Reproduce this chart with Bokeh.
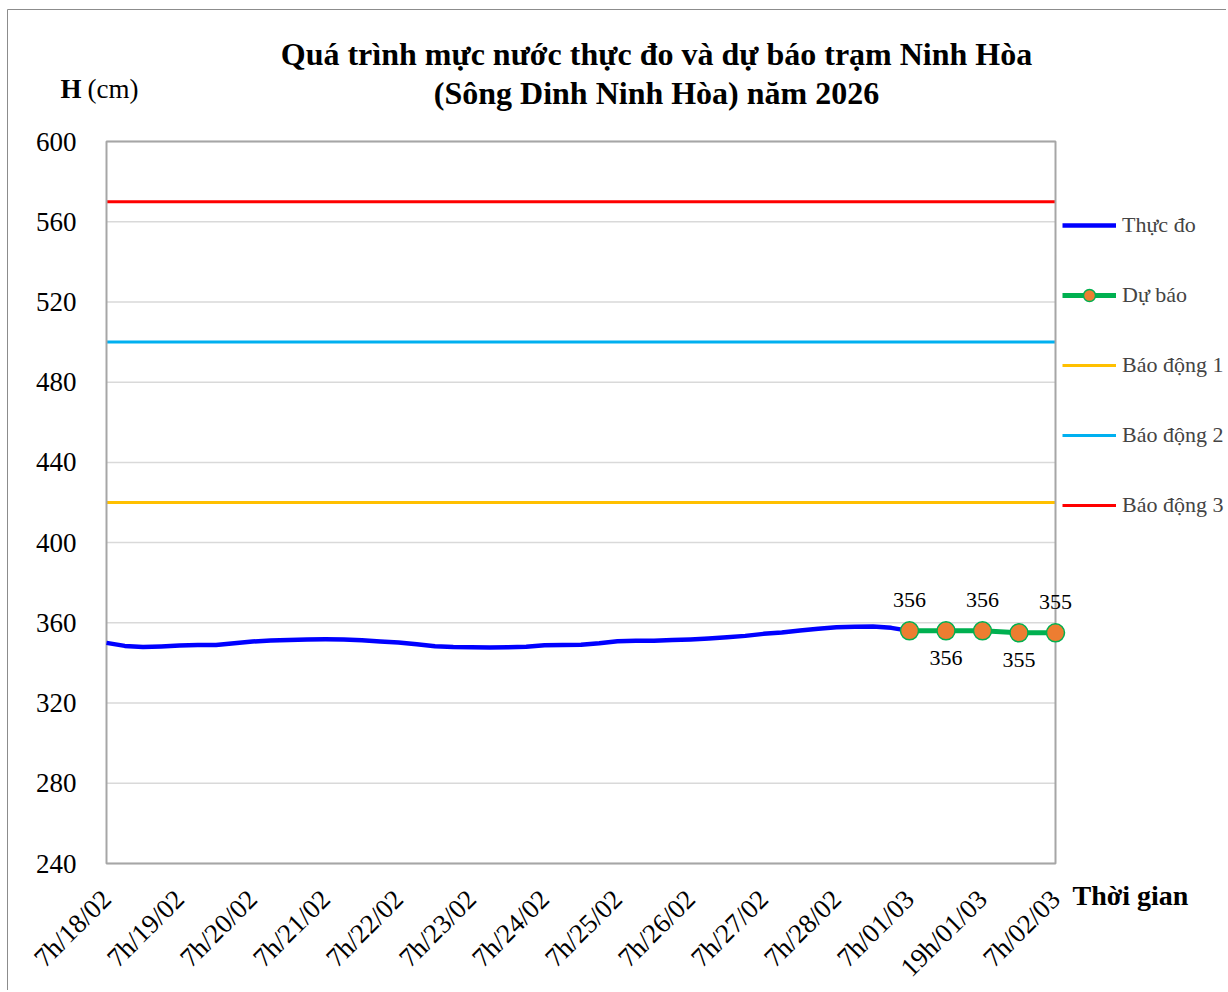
from bokeh.plotting import figure
from bokeh.models import (Legend, LegendItem, Label, LabelSet, FixedTicker, Range1d,
                          ColumnDataSource, LinearAxis)
from bokeh.embed import file_html
from bokeh.resources import INLINE

# ---- data ----
tick_labels = ["7h/18/02", "7h/19/02", "7h/20/02", "7h/21/02", "7h/22/02", "7h/23/02",
               "7h/24/02", "7h/25/02", "7h/26/02", "7h/27/02", "7h/28/02", "7h/01/03",
               "19h/01/03", "7h/02/03"]
y_ticks = [240, 280, 320, 360, 400, 440, 480, 520, 560, 600]
# observed water level every 6h from 7h/18/02 to 7h/01/03
obs_levels = [350, 348.5, 347.9, 348.2, 348.7, 348.9, 348.9, 349.8, 350.7, 351.2,
              351.5, 351.7, 351.8, 351.7, 351.3, 350.7, 350.2, 349.3, 348.3, 347.9,
              347.8, 347.7, 347.8, 348.1, 348.8, 349.0, 349.1, 349.8, 350.8, 351.1,
              351.1, 351.4, 351.7, 352.2, 352.8, 353.5, 354.5, 355.2, 356.2, 357.1,
              357.8, 358.1, 358.2, 357.5, 356]
# forecast every 6h from 7h/01/03 to 7h/02/03
fc_levels = [356, 356, 356, 355, 355]
fc_labels = ["356", "356", "356", "355", "355"]
alarm_names = ["Báo động 1", "Báo động 2", "Báo động 3"]
alarm_levels = [420, 500, 570]
alarm_colors = ["#ffc000", "#00b0f0", "#ff0000"]

FONT = "Liberation Serif"

obs_x = [i * 0.25 for i in range(len(obs_levels))]
fc_x = [11 + i * 0.5 for i in range(len(fc_levels))]
x_end = len(tick_labels) - 1
y_lo, y_hi = y_ticks[0], y_ticks[-1]

# ---- layout: canvas size and the pixel box of the plot area ----
W, H = 1226, 990
PL, PR, PT, PB = 106, 1055, 141, 863
sx = (PR - PL) / x_end
sy = (PB - PT) / (y_hi - y_lo)


def dx(px):
    return (px - PL) / sx


def dy(py):
    return y_lo + (PB - py) / sy


p = figure(width=W, height=H, output_backend="svg", toolbar_location=None,
           x_range=Range1d(dx(0), dx(W)), y_range=Range1d(dy(H), dy(0)),
           x_axis_location=None, y_axis_location=None, min_border=0)
p.background_fill_color = "white"
p.border_fill_color = "white"
p.outline_line_color = None
p.grid.visible = False

# outer chart border
p.quad(left=dx(7), right=dx(W + 50), top=dy(9), bottom=dy(H + 50),
       fill_color=None, line_color="#8c8c8c", line_width=1)

# horizontal gridlines inside the plot area
p.segment(x0=[0] * len(y_ticks), x1=[x_end] * len(y_ticks), y0=y_ticks, y1=y_ticks,
          line_color="#d9d9d9", line_width=1.5)

# axes fixed at the plot-area edges
yax = LinearAxis(fixed_location=0, ticker=FixedTicker(ticks=y_ticks), bounds=(y_lo, y_hi))
xax = LinearAxis(fixed_location=y_lo, ticker=FixedTicker(ticks=list(range(len(tick_labels)))),
                 bounds=(0, x_end))
xax.major_label_overrides = {i: t for i, t in enumerate(tick_labels)}
xax.major_label_orientation = 0.785398
for ax in (xax, yax):
    ax.axis_line_color = None
    ax.major_tick_line_color = None
    ax.minor_tick_line_color = None
    ax.major_label_text_font = FONT
    ax.major_label_text_color = "black"
yax.major_label_text_font_size = "27px"
yax.major_label_standoff = 24
xax.major_label_text_font_size = "27px"
xax.major_label_standoff = 25
p.add_layout(yax, "left")
p.add_layout(xax, "below")

alarm_r = []
for lvl, col in zip(alarm_levels, alarm_colors):
    r = p.line([0, x_end], [lvl, lvl], line_color=col, line_width=3)
    alarm_r.append(r)

# plot-area frame
p.quad(left=0, right=x_end, bottom=y_lo, top=y_hi, fill_color=None,
       line_color="#a6a6a6", line_width=2)

obs_r = p.line(obs_x, obs_levels, line_color="#0000ff", line_width=4.5, line_join="round")
fc_line = p.line(fc_x, fc_levels, line_color="#00b050", line_width=5)
fc_pts = p.scatter(fc_x, fc_levels, size=18, fill_color="#ed7d31", line_color="#00b050",
                   line_width=1.5)

offsets = [31 if i % 2 == 0 else -27 for i in range(len(fc_levels))]
src = ColumnDataSource(dict(x=fc_x, y=fc_levels, t=fc_labels, off=offsets))
p.add_layout(LabelSet(x="x", y="y", text="t", y_offset="off", source=src, text_align="center",
                      text_baseline="middle", text_font=FONT, text_font_size="22px",
                      text_color="black"))


def label(px, py, text, size, bold=True, align="left"):
    p.add_layout(Label(x=dx(px), y=dy(py), text=text, text_align=align, text_baseline="middle",
                       text_font=FONT, text_font_size=size, text_color="black",
                       text_font_style="bold" if bold else "normal"))


label(656, 53, "Quá trình mực nước thực đo và dự báo trạm Ninh Hòa", "32px", align="center")
label(656, 92, "(Sông Dinh Ninh Hòa) năm 2026", "32px", align="center")
label(60, 88, "H", "27px")
label(87, 88, "(cm)", "27px", bold=False)
label(1072, 895, "Thời gian", "28px")

items = [LegendItem(label="Thực đo", renderers=[obs_r]),
         LegendItem(label="Dự báo", renderers=[fc_line, fc_pts])]
for name, r in zip(alarm_names, alarm_r):
    items.append(LegendItem(label=name, renderers=[r]))
legend = Legend(items=items, location=(1062, H - 520), orientation="vertical", spacing=40,
                glyph_width=54, glyph_height=30, label_height=20, label_standoff=6,
                padding=0, margin=0, border_line_color=None, background_fill_alpha=0,
                label_text_font=FONT, label_text_font_size="22px")
p.add_layout(legend)

open("out.html", "w").write(file_html(p, INLINE))
